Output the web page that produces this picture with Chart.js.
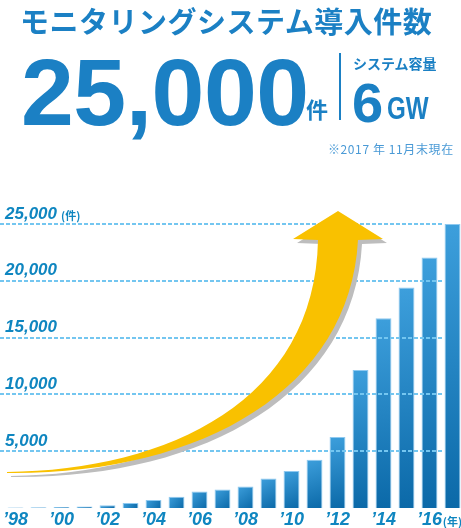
<!DOCTYPE html>
<html lang="ja">
<head>
<meta charset="utf-8">
<script src="https://cdn.jsdelivr.net/npm/chart.js@4/dist/chart.umd.min.js"></script>
<style>
  html, body { margin: 0; padding: 0; background: #fff; overflow: hidden; }
  body { width: 461px; height: 528px; position: relative; }
  #graf { position: absolute; left: 0; top: 0; }
  .txt { position: absolute; line-height: 1; color: #1b80c4; white-space: nowrap; }
  #titulo { left: 20px; top: -1px; font: bold 29px "Noto Sans CJK JP"; letter-spacing: 0.5px; }
  #total { left: 21px; top: 38px; font: bold 95px "Liberation Sans"; letter-spacing: -0.5px; }
  #ken { left: 306px; top: 92px; font: bold 22px "Noto Sans CJK JP"; }
  #divisor { position: absolute; left: 339px; top: 53px; width: 2px; height: 67px; background: #1b80c4; }
  #capTit { left: 353px; top: 53px; font: bold 14px "Noto Sans CJK JP"; }
  #seis { left: 352px; top: 70px; font: bold 56px "Liberation Sans"; }
  #gw { left: 387px; top: 91px; font: bold 31px "Liberation Sans"; transform: scaleX(0.78); transform-origin: left top; }
  #nota { left: 328px; top: 140px; font: 12px "Noto Sans CJK JP"; color: #4a9ad6; letter-spacing: 0.6px; }
</style>
</head>
<body>
<canvas id="graf" width="464" height="528"></canvas>
<div class="txt" id="titulo">モニタリングシステム導入件数</div>
<div class="txt" id="total">25,000</div>
<div class="txt" id="ken">件</div>
<div id="divisor"></div>
<div class="txt" id="capTit">システム容量</div>
<div class="txt" id="seis">6</div>
<div class="txt" id="gw">GW</div>
<div class="txt" id="nota">※2017 年 11月末現在</div>

<script>
// DADOS DO GRÁFICO
const anos = ['1998','1999','2000','2001','2002','2003','2004','2005','2006','2007',
              '2008','2009','2010','2011','2012','2013','2014','2015','2016','2017'];
const instalacoes = [50, 60, 80, 130, 250, 450, 700, 1000, 1450, 1620,
                     1900, 2600, 3250, 4250, 6250, 12150, 16700, 19400, 22050, 25000];
const ticksY = [5000, 10000, 15000, 20000, 25000];

const azulTexto = '#0f86c0';

// linhas pontilhadas por cima das barras
const linhasPlugin = {
  id: 'linhas',
  afterDatasetsDraw(chart) {
    const ctx = chart.ctx;
    const y = chart.scales.y;
    const x = chart.scales.x;
    const fim = x.getPixelForValue(18.5) + 1;
    ctx.save();
    ctx.strokeStyle = '#74c6f0';
    ctx.lineWidth = 2;
    ctx.setLineDash([4, 2]);
    ticksY.forEach(v => {
      const py = Math.round(y.getPixelForValue(v));
      ctx.beginPath();
      ctx.moveTo(0, py);
      ctx.lineTo(fim, py);
      ctx.stroke();
    });
    ctx.restore();
  }
};

// seta amarela decorativa
const setaPlugin = {
  id: 'seta',
  afterDatasetsDraw(chart) {
    const ctx = chart.ctx;
    function caminho(dx, dy) {
      ctx.beginPath();
      ctx.moveTo(7 + dx, 472 + dy);
      ctx.bezierCurveTo(170 + dx, 470 + dy, 315 + dx, 400 + dy, 318 + dx, 240 + dy);
      ctx.lineTo(293 + dx, 239 + dy);
      ctx.lineTo(338 + dx, 211 + dy);
      ctx.lineTo(383 + dx, 239 + dy);
      ctx.lineTo(358 + dx, 240 + dy);
      ctx.bezierCurveTo(350 + dx, 390 + dy, 200 + dx, 475 + dy, 7 + dx, 473 + dy);
      ctx.closePath();
    }
    ctx.save();
    caminho(4, 4);
    ctx.fillStyle = '#bdbdbd';
    ctx.fill();
    caminho(0, 0);
    ctx.fillStyle = '#f9c100';
    ctx.fill();
    ctx.restore();
  }
};

// unidades (件) e (年)
const unidadesPlugin = {
  id: 'unidades',
  afterDraw(chart) {
    const ctx = chart.ctx;
    const y = chart.scales.y;
    const x = chart.scales.x;
    ctx.save();
    ctx.fillStyle = azulTexto;
    ctx.font = 'italic bold 17px "Liberation Sans"';
    const larg = ctx.measureText('25,000').width;
    ctx.font = 'bold 11px "Noto Sans CJK JP"';
    ctx.textBaseline = 'alphabetic';
    ctx.fillText('(件)', 5 + larg + 4, y.getPixelForValue(25000) - 4);
    ctx.textAlign = 'center';
    ctx.fillText('(年)', x.getPixelForValue(19), 526);
    ctx.restore();
  }
};

function corBarra(c) {
  const chart = c.chart;
  if (!chart.chartArea || c.parsed === undefined) return '#2585c5';
  const sx = chart.scales.x, sy = chart.scales.y;
  const cx = sx.getPixelForValue(c.dataIndex);
  const topo = sy.getPixelForValue(c.parsed.y);
  const base = sy.getPixelForValue(0);
  const g = chart.ctx.createLinearGradient(cx - 8, topo, cx + 8, base);
  g.addColorStop(0, '#3d9fdc');
  g.addColorStop(1, '#0b69a8');
  return g;
}

new Chart(document.getElementById('graf'), {
  type: 'bar',
  data: {
    labels: anos,
    datasets: [{
      data: instalacoes,
      backgroundColor: corBarra,
      borderColor: 'rgba(130,195,238,0.9)',
      borderWidth: { top: 1, left: 1, right: 1, bottom: 0 },
      borderSkipped: 'bottom',
      categoryPercentage: 1,
      barPercentage: 0.69
    }]
  },
  options: {
    responsive: false,
    animation: false,
    layout: { padding: { top: 224, left: 0, right: 0, bottom: 0 } },
    plugins: { legend: { display: false }, tooltip: { enabled: false } },
    scales: {
      x: {
        grid: { display: false, drawTicks: false },
        border: { display: false },
        afterFit: s => { s.height = 20; },
        ticks: {
          padding: 3,
          maxRotation: 0,
          autoSkip: false,
          color: azulTexto,
          font: { family: 'Liberation Sans', size: 18, weight: 'bold', style: 'italic', lineHeight: 1 },
          callback: (v, i) => (i % 2 === 0 && i < 19) ? '’' + anos[i].slice(2) : ''
        }
      },
      y: {
        min: 0,
        max: 25000,
        grid: { display: false, drawTicks: false },
        border: { display: false },
        afterFit: s => { s.width = 0; },
        afterBuildTicks: s => { s.ticks = [0].concat(ticksY).map(v => ({ value: v })); },
        ticks: {
          mirror: true,
          padding: 1,
          labelOffset: -10,
          color: azulTexto,
          font: { family: 'Liberation Sans', size: 17, weight: 'bold', style: 'italic' },
          callback: v => v === 0 ? '' : v.toLocaleString('en-US')
        }
      }
    }
  },
  plugins: [linhasPlugin, setaPlugin, unidadesPlugin]
});
</script>
</body>
</html>
